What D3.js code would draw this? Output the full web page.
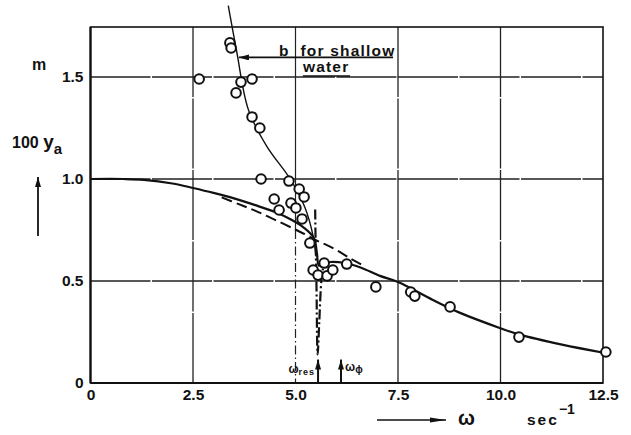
<!DOCTYPE html>
<html>
<head>
<meta charset="utf-8">
<script src="https://cdn.jsdelivr.net/npm/d3@7.9.0/dist/d3.min.js"></script>
<style>
  body { margin: 0; background: #fff; }
  svg { display: block; }
  text { font-family: "Liberation Sans", Arial, sans-serif; font-weight: bold; fill: #111; }
</style>
</head>
<body>
<svg id="chart" width="631" height="435"></svg>
<script>
// tick values and labels
const xTicks = [0, 2.5, 5.0, 7.5, 10.0, 12.5];
const xTickLabels = ["0", "2.5", "5.0", "7.5", "10.0", "12.5"];
const yTicks = [0, 0.5, 1.0, 1.5];
const yTickLabels = ["0", "0.5", "1.0", "1.5"];

// measured points (omega, 100 y_a)
const measured = [
  [3.40, 1.667], [3.43, 1.642], [2.65, 1.490], [3.67, 1.475], [3.94, 1.490],
  [3.55, 1.422], [3.94, 1.304], [4.13, 1.250], [4.16, 1.000], [4.84, 0.990],
  [5.09, 0.951], [5.21, 0.912], [4.48, 0.902], [4.89, 0.882], [5.01, 0.858],
  [4.60, 0.848], [5.16, 0.804], [5.35, 0.686], [5.43, 0.554], [5.55, 0.529],
  [5.70, 0.588], [5.77, 0.525], [5.91, 0.554], [6.25, 0.583], [6.96, 0.471],
  [7.81, 0.446], [7.91, 0.426], [8.77, 0.373], [10.45, 0.225], [12.57, 0.152]
];

// curve a (deep water, solid)
const curveA = [
  [0, 1.0], [0.8, 1.0], [1.3, 0.996], [2.0, 0.978], [2.5, 0.956], [3.0, 0.932], [3.5, 0.905],
  [4.0, 0.873], [4.5, 0.838], [4.9, 0.80], [5.2, 0.762], [5.45, 0.71],
  [5.52, 0.64], [5.57, 0.575], [5.65, 0.585], [5.85, 0.593], [6.2, 0.588],
  [6.6, 0.565], [7.06, 0.525], [7.5, 0.495], [8.35, 0.407], [9.0, 0.345],
  [9.98, 0.27], [10.47, 0.237], [11.5, 0.188], [12.55, 0.147]
];

// dashed curve
const curveDashed = [
  [3.2, 0.91], [3.6, 0.878], [4.0, 0.846], [4.5, 0.80], [5.0, 0.752],
  [5.3, 0.722], [5.5, 0.70], [5.7, 0.682], [6.0, 0.652], [6.3, 0.615], [6.6, 0.582]
];

// curve b for shallow water (thin solid)
const curveB = [
  [3.36, 1.85], [3.45, 1.75], [3.57, 1.62], [3.85, 1.34], [4.3, 1.16],
  [4.87, 1.0], [5.23, 0.86], [5.43, 0.72], [5.5, 0.62]
];

// resonance dip (dash-dot)
const curveDip = [
  [5.48, 0.85], [5.49, 0.70], [5.51, 0.50], [5.54, 0.14], [5.58, 0.30],
  [5.63, 0.50], [5.67, 0.56]
];

const omegaRes = 5.55;
const omegaPhi = 6.11;

const svg = d3.select("#chart");
const margin = { left: 90.5, right: 28, top: 27, bottom: 52 };
const W = 631, H = 435;

const x = d3.scaleLinear().domain([0, 12.5]).range([margin.left, W - margin.right]);
const y = d3.scaleLinear().domain([0, 1.745]).range([H - margin.bottom, margin.top]);

const g = svg.append("g");

// grid
xTicks.slice(1, -1).forEach(v => {
  if (v === 5.0) {
    g.append("line").attr("x1", x(v)).attr("x2", x(v)).attr("y1", y(1.745)).attr("y2", y(0.75))
      .attr("stroke", "#222").attr("stroke-width", 1.2);
    g.append("line").attr("x1", x(v)).attr("x2", x(v)).attr("y1", y(0.75)).attr("y2", y(0))
      .attr("stroke", "#222").attr("stroke-width", 1.2).attr("stroke-dasharray", "9,3,1.5,3");
  } else {
    g.append("line").attr("x1", x(v)).attr("x2", x(v)).attr("y1", y(1.745)).attr("y2", y(0))
      .attr("stroke", "#222").attr("stroke-width", 1.3).attr("stroke-dasharray", "70,1.5");
  }
});
yTicks.slice(1).forEach(v => {
  g.append("line").attr("x1", x(0)).attr("x2", x(12.5)).attr("y1", y(v)).attr("y2", y(v))
    .attr("stroke", "#222").attr("stroke-width", 1.3).attr("stroke-dasharray", "60,1.5");
});

// frame
g.append("rect").attr("x", x(0)).attr("y", y(1.745)).attr("width", x(12.5) - x(0)).attr("height", y(0) - y(1.745))
  .attr("fill", "none").attr("stroke", "#111").attr("stroke-width", 1.6);
g.append("line").attr("x1", x(0)).attr("x2", x(0)).attr("y1", y(0)).attr("y2", y(1.745)).attr("stroke", "#111").attr("stroke-width", 2.2);
g.append("line").attr("x1", x(0)).attr("x2", x(12.5)).attr("y1", y(0)).attr("y2", y(0)).attr("stroke", "#111").attr("stroke-width", 2.2);

// axes (labels only)
const xAxis = d3.axisBottom(x).tickValues(xTicks).tickFormat((d, i) => xTickLabels[i]).tickSize(0).tickPadding(6);
const yAxis = d3.axisLeft(y).tickValues(yTicks).tickFormat((d, i) => yTickLabels[i]).tickSize(0).tickPadding(7);
const gx = svg.append("g").attr("transform", `translate(0,${y(0)})`).call(xAxis);
const gy = svg.append("g").attr("transform", `translate(${x(0)},0)`).call(yAxis);
[gx, gy].forEach(a => {
  a.select(".domain").remove();
  a.selectAll("text").attr("font-size", 15.5).attr("font-family", "Liberation Sans, Arial, sans-serif").attr("font-weight", "bold").attr("fill", "#111");
});

// curves
const line = d3.line().x(d => x(d[0])).y(d => y(d[1])).curve(d3.curveCatmullRom.alpha(0.5));

g.append("path").attr("d", line(curveDip)).attr("fill", "none").attr("stroke", "#111")
  .attr("stroke-width", 2.2).attr("stroke-dasharray", "10,3,2,3");
g.append("path").attr("d", line(curveDashed)).attr("fill", "none").attr("stroke", "#111")
  .attr("stroke-width", 2).attr("stroke-dasharray", "11,5");
g.append("path").attr("d", line(curveA)).attr("fill", "none").attr("stroke", "#111").attr("stroke-width", 2.2);
g.append("path").attr("d", line(curveB)).attr("fill", "none").attr("stroke", "#111").attr("stroke-width", 1.4);

// measured circles
g.selectAll("circle.pt").data(measured).join("circle").attr("class", "pt")
  .attr("cx", d => x(d[0])).attr("cy", d => y(d[1])).attr("r", 4.8)
  .attr("fill", "#fff").attr("stroke", "#111").attr("stroke-width", 2);

// arrow markers
const defs = svg.append("defs");
defs.append("marker").attr("id", "head").attr("viewBox", "0 0 10 6").attr("refX", 10).attr("refY", 3)
  .attr("markerWidth", 10).attr("markerHeight", 6).attr("markerUnits", "userSpaceOnUse").attr("orient", "auto")
  .append("path").attr("d", "M0,0L10,3L0,6Z").attr("fill", "#111");
defs.append("marker").attr("id", "headLong").attr("viewBox", "0 0 16 6").attr("refX", 16).attr("refY", 3)
  .attr("markerWidth", 16).attr("markerHeight", 6).attr("markerUnits", "userSpaceOnUse").attr("orient", "auto")
  .append("path").attr("d", "M0,0.5L16,3L0,5.5Z").attr("fill", "#111");

// omega_res and omega_phi arrows
[omegaRes, omegaPhi].forEach(w => {
  g.append("line").attr("x1", x(w)).attr("x2", x(w)).attr("y1", y(0)).attr("y2", y(0.115))
    .attr("stroke", "#111").attr("stroke-width", 2).attr("marker-end", "url(#head)");
});
const lr = g.append("text").attr("x", x(omegaRes) - 3).attr("y", y(0.05)).attr("text-anchor", "end").attr("font-size", 12).attr("font-weight", "normal");
lr.append("tspan").text("ω");
lr.append("tspan").attr("font-size", 9).attr("dy", 2).attr("letter-spacing", 1).text("res");
const lp = g.append("text").attr("x", x(omegaPhi) + 4).attr("y", y(0.06)).attr("font-size", 12).attr("font-weight", "normal");
lp.append("tspan").text("ω");
lp.append("tspan").attr("font-size", 10).attr("dy", 2).text("ϕ");

// "b for shallow water" annotation
g.append("line").attr("x1", x(7.38)).attr("x2", x(3.62)).attr("y1", y(1.596)).attr("y2", y(1.596))
  .attr("stroke", "#111").attr("stroke-width", 1.6).attr("marker-end", "url(#head)");
g.append("text").attr("x", x(4.6)).attr("y", y(1.605)).attr("font-size", 15.5).text("b");
g.append("text").attr("x", x(5.12)).attr("y", y(1.605)).attr("font-size", 15.5).attr("letter-spacing", 1.2).text("for shallow");
g.append("text").attr("x", x(5.18)).attr("y", y(1.522)).attr("font-size", 15.5).attr("letter-spacing", 1.2).text("water");
g.append("line").attr("x1", x(5.18)).attr("x2", x(6.33)).attr("y1", y(1.505)).attr("y2", y(1.505))
  .attr("stroke", "#111").attr("stroke-width", 1.6);

// axis titles
svg.append("text").attr("x", 39).attr("y", 70).attr("font-size", 16).attr("text-anchor", "middle").text("m");
const yt = svg.append("text").attr("x", 12).attr("y", 148).attr("font-size", 16);
yt.append("tspan").text("100 ");
yt.append("tspan").attr("font-size", 19).text("y");
yt.append("tspan").attr("font-size", 15).attr("dy", 6).text("a");
svg.append("line").attr("x1", 38).attr("x2", 38).attr("y1", 236).attr("y2", 177)
  .attr("stroke", "#111").attr("stroke-width", 1.8).attr("marker-end", "url(#head)");

svg.append("line").attr("x1", 377).attr("x2", 446).attr("y1", 420).attr("y2", 420)
  .attr("stroke", "#111").attr("stroke-width", 1.6).attr("marker-end", "url(#headLong)");
svg.append("text").attr("x", 458).attr("y", 425).attr("font-size", 20).text("ω");
const st = svg.append("text").attr("x", 527).attr("y", 425).attr("font-size", 15.5).attr("letter-spacing", 2);
st.append("tspan").text("sec");
st.append("tspan").attr("font-size", 14).attr("dy", -11).attr("letter-spacing", 0).text("−1");
</script>
</body>
</html>
